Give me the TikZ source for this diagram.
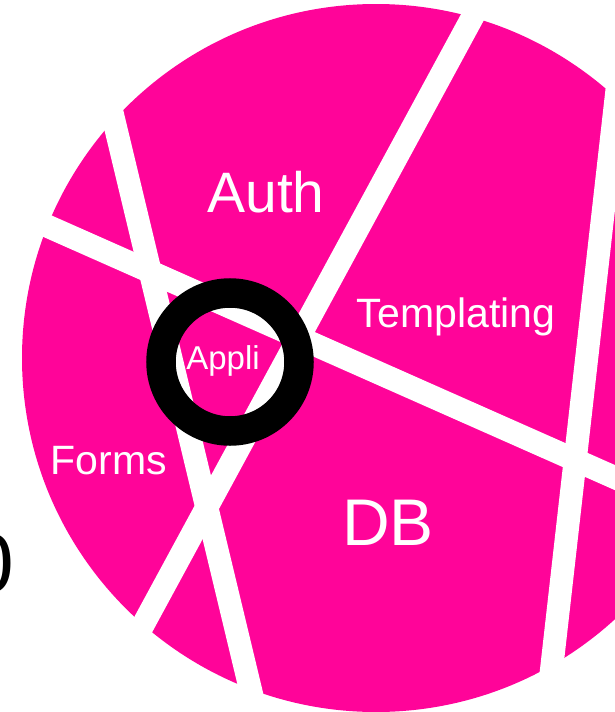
\documentclass[tikz,border=0pt]{standalone}
\usepackage{fontspec}
\setmainfont{Liberation Sans}
\usepackage{tikz}
\definecolor{piepink}{RGB}{255,4,153}
\tikzset{x=1pt, y=-1pt, % pixel-like coordinates, y going down
cut/.style={ % white cuts through the pie
draw=white,
line width=23pt},
part/.style={ % labels of the pie parts
text=white,
inner sep=0pt,
anchor=base},
ring/.style={
draw=black,
line width=29.5pt}}

\begin{document}
\begin{tikzpicture}
				\useasboundingbox (0,0) rectangle (615,712);
				\fill[piepink] (376,358) circle[radius=354pt];

				% ends of the cuts
				\coordinate (a1) at (492.6,-20);
				\coordinate (a2) at (91.5,720);
				\coordinate (b1) at (80.2,-20);
				\coordinate (b2) at (257.8,720);
				\coordinate (c1) at (-20,196.3);
				\coordinate (c2) at (640,488.7);
				\coordinate (d1) at (629.4,-20);
				\coordinate (d2) at (545.8,720);

				\draw[cut] (a1) -- (a2);
				\draw[cut] (b1) -- (b2);
				\draw[cut] (c1) -- (c2);
				\draw[cut] (d1) -- (d2);

				\draw[ring] (230,362) circle[radius=69pt];

				\node[part, font=\fontsize{57}{57}\selectfont] (auth) at (266,212) {Auth};
				\node[part, font=\fontsize{41}{41}\selectfont] (tpl) at (456,327) {Templating};
				\node[part, font=\fontsize{33}{33}\selectfont] (appli) at (223,369) {Appli};
				\node[part, font=\fontsize{41}{41}\selectfont] (forms) at (109,474) {Forms};
				\node[part, font=\fontsize{66}{66}\selectfont] (db) at (388,545) {DB};
				\node[inner sep=0pt, anchor=base east, font=\fontsize{84}{84}\selectfont] (zero) at (14,592) {0};
			\end{tikzpicture}
\end{document}
